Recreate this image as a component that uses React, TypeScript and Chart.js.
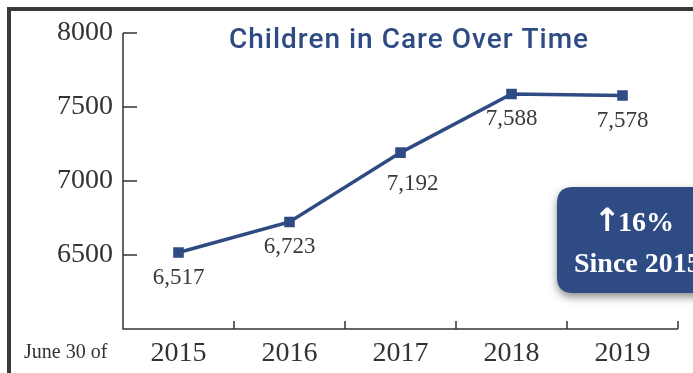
import React, { useEffect, useRef } from "react";
import { Chart, registerables } from "chart.js";

Chart.register(...registerables);

const years = ["2015", "2016", "2017", "2018", "2019"];
const children = [6517, 6723, 7192, 7588, 7578];
const valueLabels = ["6,517", "6,723", "7,192", "7,588", "7,578"];
const yTicks = [6500, 7000, 7500, 8000];
const titleText = "Children in Care Over Time";
const axisPrefix = "June 30 of";
const badgeArrow = "\u2191";
const badgeLines = ["16%", "Since 2015"];

const NAVY = "#2E4B84";
const INK = "#333333";

const decorPlugin = {
  id: "decor",
  beforeDraw(chart: any) {
    const ctx = chart.ctx;
    ctx.save();
    ctx.fillStyle = "#ffffff";
    ctx.fillRect(0, 0, chart.width, chart.height);
    ctx.restore();
  },
  afterDraw(chart: any) {
    const ctx = chart.ctx;
    const area = chart.chartArea;
    const xs = chart.scales.x;
    const ys = chart.scales.y;
    ctx.save();
    // frame
    ctx.strokeStyle = "#3a3a3a";
    ctx.lineWidth = 4;
    ctx.strokeRect(9, 9, chart.width + 20, chart.height + 20);

    // axes
    ctx.strokeStyle = INK;
    ctx.lineWidth = 1.5;
    ctx.beginPath();
    ctx.moveTo(area.left, area.top);
    ctx.lineTo(area.left, area.bottom);
    ctx.lineTo(area.right, area.bottom);
    yTicks.forEach((v) => {
      const y = ys.getPixelForValue(v);
      ctx.moveTo(area.left, y);
      ctx.lineTo(area.left + 14, y);
    });
    const step = xs.getPixelForValue(1) - xs.getPixelForValue(0);
    for (let i = 1; i <= years.length; i++) {
      const x = xs.getPixelForValue(i - 1) + step / 2;
      ctx.moveTo(x, area.bottom);
      ctx.lineTo(x, area.bottom - 8);
    }
    ctx.stroke();

    // title
    ctx.fillStyle = NAVY;
    ctx.font = "500 28px Roboto";
    (ctx as any).letterSpacing = "1px";
    ctx.textAlign = "center";
    ctx.textBaseline = "middle";
    ctx.fillText(titleText, 409, 41);
    (ctx as any).letterSpacing = "0px";

    // value labels
    ctx.fillStyle = "#3a3a3a";
    ctx.font = "23px 'Liberation Serif'";
    const meta = chart.getDatasetMeta(0);
    meta.data.forEach((pt: any, i: number) => {
      const dx = i === 2 ? 12 : 0;
      const dy = i === 2 ? 31 : 25;
      ctx.fillText(valueLabels[i], pt.x + dx, pt.y + dy);
    });

    // June 30 of
    ctx.fillStyle = INK;
    ctx.font = "20px 'Liberation Serif'";
    ctx.textAlign = "left";
    ctx.fillText(axisPrefix, 24, 353);

    // badge
    const bx = 557, by = 187, bw = 160, bh = 106, r = 16;
    ctx.save();
    ctx.shadowColor = "rgba(0,0,0,0.45)";
    ctx.shadowBlur = 9;
    ctx.shadowOffsetY = 4;
    ctx.fillStyle = NAVY;
    ctx.beginPath();
    ctx.moveTo(bx + r, by);
    ctx.lineTo(bx + bw - r, by);
    ctx.quadraticCurveTo(bx + bw, by, bx + bw, by + r);
    ctx.lineTo(bx + bw, by + bh - r);
    ctx.quadraticCurveTo(bx + bw, by + bh, bx + bw - r, by + bh);
    ctx.lineTo(bx + r, by + bh);
    ctx.quadraticCurveTo(bx, by + bh, bx, by + bh - r);
    ctx.lineTo(bx, by + r);
    ctx.quadraticCurveTo(bx, by, bx + r, by);
    ctx.closePath();
    ctx.fill();
    ctx.restore();
    ctx.fillStyle = "#ffffff";
    ctx.textAlign = "left";
    ctx.font = "bold 32px 'DejaVu Sans'";
    ctx.fillText(badgeArrow, bx + 37, by + 36);
    ctx.font = "bold 28px 'Liberation Serif'";
    ctx.fillText(badgeLines[0], bx + 61, by + 37);
    ctx.fillText(badgeLines[1], bx + 17, by + 78);
    ctx.restore();
  },
};

export default function App() {
  const ref = useRef<HTMLCanvasElement>(null);
  useEffect(() => {
    const canvas = ref.current!;
    const chart = new Chart(canvas, {
      type: "line",
      data: {
        labels: years,
        datasets: [
          {
            data: children,
            borderColor: NAVY,
            backgroundColor: NAVY,
            borderWidth: 3.5,
            pointStyle: "rect",
            pointRadius: 7.5,
            pointBorderWidth: 0,
            tension: 0,
          },
        ],
      },
      options: {
        responsive: false,
        animation: false,
        devicePixelRatio: 1,
        layout: { padding: { left: 8, top: 33, right: 15, bottom: 0 } },
        plugins: {
          legend: { display: false },
          tooltip: { enabled: false },
          title: { display: false },
        },
        scales: {
          x: {
            offset: true,
            grid: { display: false, drawTicks: false, offset: true },
            border: { display: false },
            ticks: {
              color: INK,
              font: { family: "'Liberation Serif'", size: 28 },
              padding: 8,
            },
            afterFit: (s: any) => {
              s.height = 44;
            },
          },
          y: {
            min: 6000,
            max: 8000,
            grid: { display: false, drawTicks: false },
            border: { display: false },
            ticks: {
              stepSize: 500,
              color: INK,
              font: { family: "'Liberation Serif'", size: 28 },
              padding: 10,
              callback: (v: any) => (yTicks.includes(Number(v)) ? String(v) : ""),
            },
            afterFit: (s: any) => {
              s.width = 115;
            },
          },
        },
      },
      plugins: [decorPlugin],
    });
    return () => chart.destroy();
  }, []);
  return (
    <div style={{ position: "absolute", left: 0, top: 0, width: 693, height: 373 }}>
      <canvas ref={ref} width={693} height={373} style={{ width: 693, height: 373 }} />
    </div>
  );
}
